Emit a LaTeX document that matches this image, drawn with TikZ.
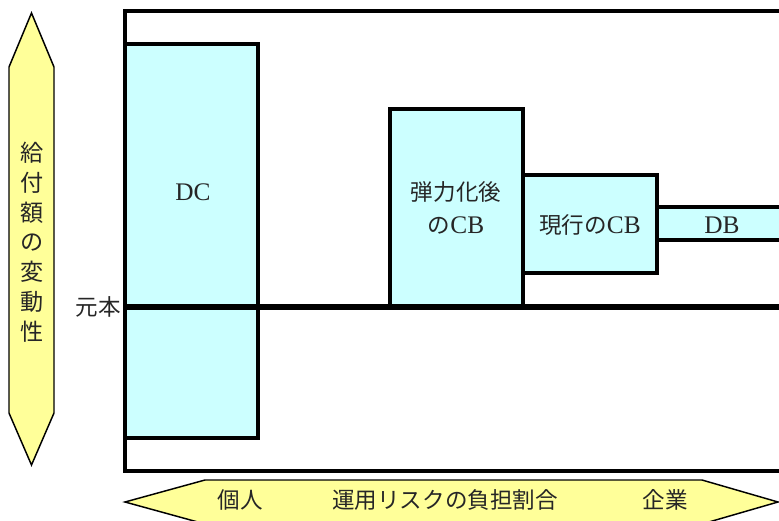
\documentclass[tikz,border=0pt]{standalone}
\usepackage{fontspec}
\setmainfont{Liberation Serif}
\newfontfamily\jp{Noto Sans CJK JP}[Scale=0.89]
\usetikzlibrary{fit}
\definecolor{boxcyan}{HTML}{CCFFFF}
\definecolor{arrowyellow}{HTML}{FFFF99}
\tikzset{
  boxrect/.style={draw=black, line width=2.3pt, fill=boxcyan, inner sep=0pt},
  arrowshape/.style={draw=black, line width=1.1pt, fill=arrowyellow, line join=miter},
  lbl/.style={font=\fontsize{19}{22}\selectfont, inner sep=0pt, text=black!85},
}
\begin{document}
\begin{tikzpicture}[x=0.75pt, y=-0.75pt]
\useasboundingbox (0,0) rectangle (779,521);
\clip (0,0) rectangle (779,521);
% frame
\draw[line width=2.3pt] (800,11) -- (125,11) -- (125,471) -- (800,471);
% boxes
\node[boxrect, fit={(125,44)(258,438)}] (dc) {};
\node[boxrect, fit={(390,109)(523,307)}] (cbnew) {};
\node[boxrect, fit={(523,175)(657,273)}] (cbcur) {};
\node[boxrect, fit={(657,207)(800,240)}] (db) {};
% baseline
\coordinate (bl0) at (125,307);
\coordinate (bl1) at (800,307);
\draw[line width=3.8pt] (bl0) -- (bl1);
% labels
\node[lbl] at (193,192) {DC};
\node[lbl, align=center] at (456,208) {{\jp 弾力化後}\\[3pt]{\jp の}CB};
\node[lbl] at (590,225) {{\jp 現行の}CB};
\node[lbl] at (722,225) {DB};
\node[lbl, anchor=east] (gm) at (121,307) {\jp 元本};
% left vertical arrow
\draw[arrowshape] (31.5,13) -- (54,67) -- (54,413) -- (31.5,465) -- (9,413) -- (9,67) -- cycle;
\node[lbl, align=center, font=\fontsize{19.5}{22.3}\selectfont] (vlab) at (32,242) {\jp 給\\\jp 付\\\jp 額\\\jp の\\\jp 変\\\jp 動\\\jp 性};
% bottom horizontal arrow
\draw[arrowshape] (125,502) -- (205,480) -- (702,480) -- (778,502) -- (702,524) -- (205,524) -- cycle;
\node[lbl] (ind) at (240,500) {\jp 個人};
\node[lbl] (risk) at (445,500) {\jp 運用リスクの負担割合};
\node[lbl] (corp) at (665,500) {\jp 企業};
\end{tikzpicture}
\end{document}
